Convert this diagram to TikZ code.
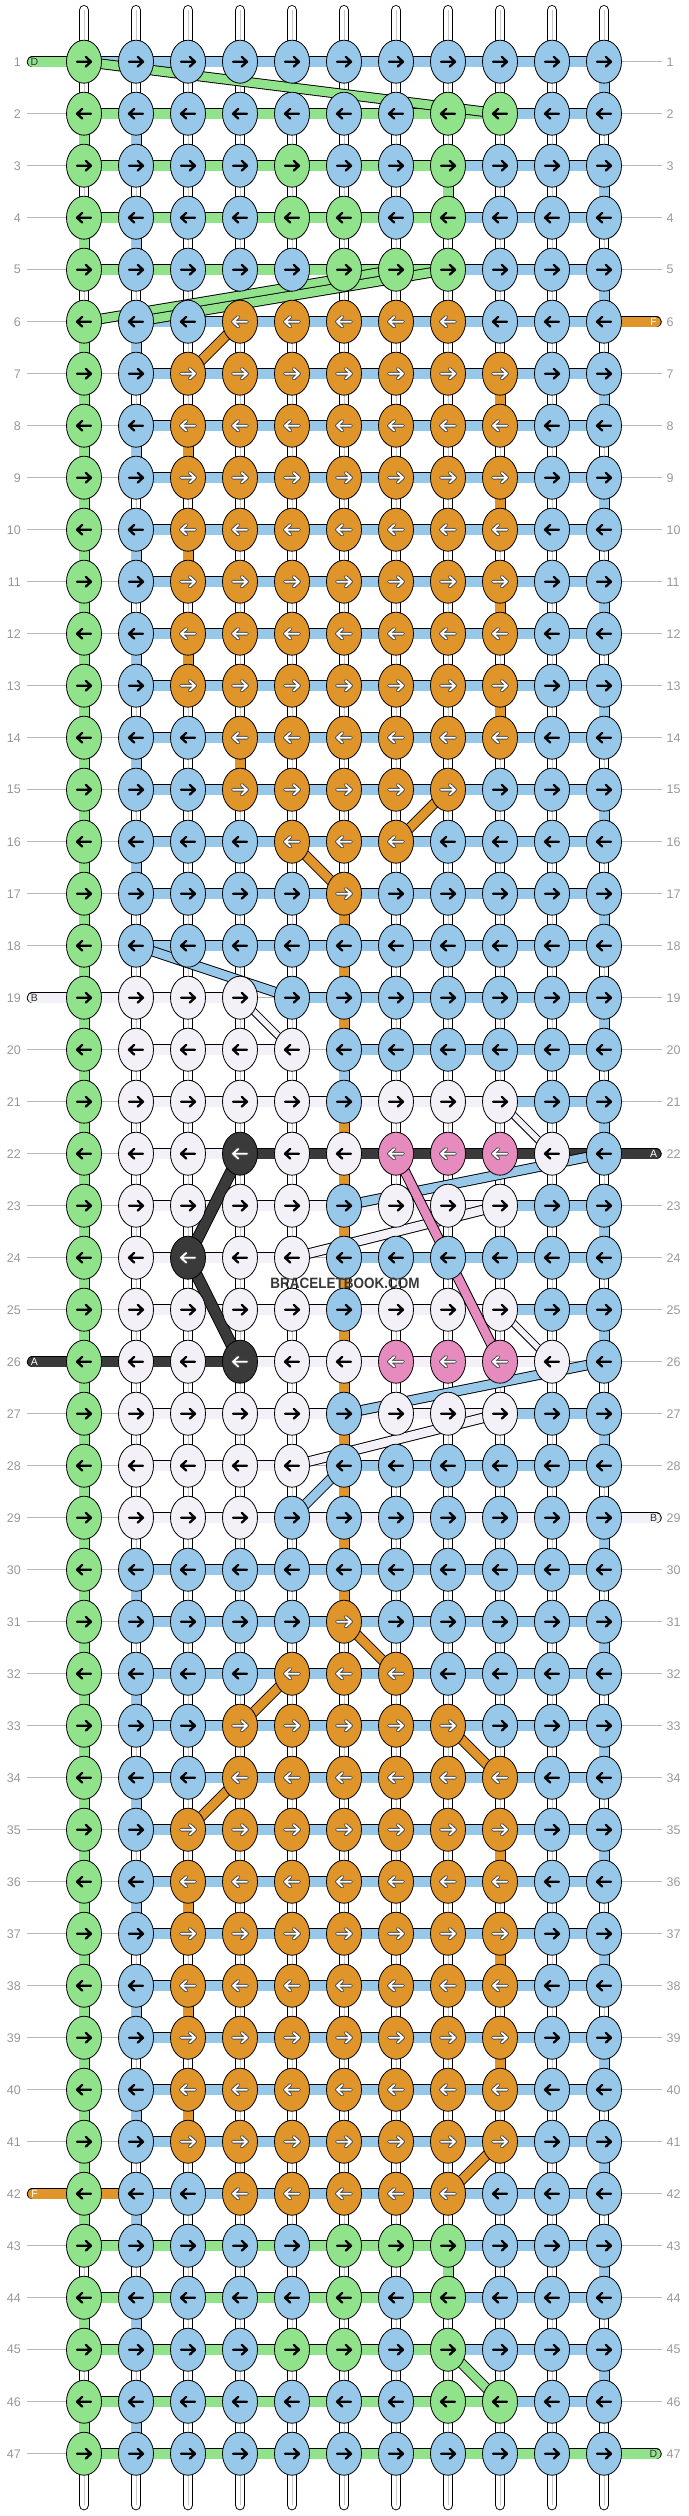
\documentclass[tikz,border=0pt]{standalone}
\usepackage{fontspec}
\setmainfont{Liberation Sans}
\usetikzlibrary{shapes.geometric}
\definecolor{kG}{HTML}{91E38B}
\definecolor{kB}{HTML}{97C8E9}
\definecolor{kO}{HTML}{DF952A}
\definecolor{kP}{HTML}{E68BBE}
\definecolor{kD}{HTML}{3A3A3A}
\definecolor{kW}{HTML}{F4F0F7}
\definecolor{lblgrey}{HTML}{999999}
\definecolor{lngrey}{HTML}{B8B8B8}
\definecolor{strgrey}{HTML}{C8C8C8}

\newcommand\arrG[1]{\draw[arrblk] ({-7*#1},0) -- ({7*#1},0) ({1.8*#1},-4.8) -- ({7*#1},0) -- ({1.8*#1},4.8);}
\newcommand\arrO[1]{\draw[arrout] ({-7*#1},0) -- ({7*#1},0) ({1.8*#1},-4.8) -- ({7*#1},0) -- ({1.8*#1},4.8);
  \draw[arrin] ({-7*#1},0) -- ({7*#1},0) ({1.8*#1},-4.8) -- ({7*#1},0) -- ({1.8*#1},4.8);}
\let\arrB\arrG \let\arrW\arrG \let\arrP\arrO \let\arrD\arrO

\newcommand\knotrow[2]{%
  \pgfmathtruncatemacro\dirs{1-2*mod(#1+1,2)}%
  \foreach \k [count=\c] in {#2}{%
    \node[knot,fill=k\k] (k-#1-\c) at (p-#1-\c) {};
    \begin{scope}[shift={(k-#1-\c.center)}]\csname arr\k\endcsname{\dirs}\end{scope}
  }}
\newcommand\hbars[4]{\foreach \j in {#2,...,#3}{%
  \pgfmathtruncatemacro\jn{\j+1}%
  \draw[barout] (p-#1-\j) -- (p-#1-\jn);
  \draw[barin,draw=k#4] (p-#1-\j) -- (p-#1-\jn);}}
\newcommand\vgap[3]{\pgfmathtruncatemacro\rnext{#1+1}%
  \draw[gapout] (p-#1-#2) -- (p-\rnext-#2);
  \draw[gapin,draw=k#3] (p-#1-#2) -- (p-\rnext-#2);}
\newcommand\leashL[4]{\pgfmathsetmacro\ly{61.7+52*(#1-1)}%
  \coordinate (le-#1) at (32.5,\ly);
  \draw[leashout] (le-#1) -- (p-#1-1);
  \draw[leashin,draw=k#2] (le-#1) -- (p-#1-1);
  \node[leashtxt,text=#4] (lt-#1) at (34.5,\ly) {#3};}
\newcommand\leashR[4]{\pgfmathsetmacro\ly{61.7+52*(#1-1)}%
  \coordinate (re-#1) at (656,\ly);
  \draw[leashout] (p-#1-11) -- (re-#1);
  \draw[leashin,draw=k#2] (p-#1-11) -- (re-#1);
  \node[leashtxt,text=#4] (rt-#1) at (653.5,\ly) {#3};}

\begin{document}
\begin{tikzpicture}[x=1pt,y=-1pt,
  knot/.style={ellipse,draw=black,line width=0.8pt,minimum width=35pt,minimum height=43pt,inner sep=0pt},
  arrblk/.style={line width=2.3pt,black,line cap=round,line join=round},
  arrout/.style={line width=3.8pt,black!70,line cap=round,line join=round},
  arrin/.style={line width=1.8pt,white,line cap=round,line join=round},
  barout/.style={line width=11.5pt,draw=black},
  barin/.style={line width=9.6pt},
  gapout/.style={line width=11pt,draw=black},
  gapin/.style={line width=9.2pt},
  dgout/.style={line width=10.5pt,draw=black},
  dgin/.style={line width=8.6pt},
  thinout/.style={line width=7.5pt,draw=black},
  thinin/.style={line width=5.7pt,draw=kW},
  leashout/.style={line width=11.5pt,draw=black,line cap=round},
  leashin/.style={line width=9.6pt,line cap=round},
  leashtxt/.style={font=\fontsize{10.5}{10.5}\selectfont,inner sep=0pt},
  rowlbl/.style={font=\fontsize{12.5}{12.5}\selectfont,text=lblgrey,inner sep=0pt},
  lblline/.style={line width=1pt,draw=lngrey}]
\useasboundingbox (0,0) rectangle (688,2516);
\fill[white] (0,0) rectangle (688,2516);

% grid coordinates
\foreach \r in {1,...,47}{\foreach \c in {1,...,11}{%
  \coordinate (p-\r-\c) at ({84+52*(\c-1)},{61.7+52*(\r-1)});}}

% row guide lines (under everything)
\foreach \r in {1,...,47}{\pgfmathsetmacro\ly{61.7+52*(\r-1)}%
  \coordinate (lc-\r) at (27,\ly); \coordinate (rc-\r) at (662,\ly);
  \draw[lblline] (lc-\r) -- (rc-\r);}

% vertical strands
\foreach \c in {1,...,11}{%
  \coordinate (st-\c) at ({84+52*(\c-1)},10.3);
  \coordinate (sb-\c) at ({84+52*(\c-1)},2505);
  \draw[line width=10.6pt,black,line cap=round] (st-\c) -- (sb-\c);
  \draw[line width=8.8pt,white,line cap=round] (st-\c) -- (sb-\c);
  \draw[line width=0.9pt,strgrey] (st-\c) -- (sb-\c);}

% coloured vertical gaps
\foreach \r in {2,4} {\vgap{\r}{1}{G}}
\foreach \r in {6,...,42} {\vgap{\r}{1}{G}}
\foreach \r in {44,46} {\vgap{\r}{1}{G}}
\foreach \r in {2,4,...,16} {\vgap{\r}{2}{B}}
\foreach \r in {30,32,...,46} {\vgap{\r}{2}{B}}
\foreach \r in {1,3,...,45} {\vgap{\r}{11}{B}}
\foreach \r in {3,43} {\vgap{\r}{8}{G}}
\foreach \r in {7,9,11,13,35,37,39} {\vgap{\r}{9}{O}}
\foreach \r in {8,10,12,36,38,40} {\vgap{\r}{3}{O}}
\vgap{14}{4}{O}
\foreach \r in {17,18,19} {\vgap{\r}{6}{O}}
\vgap{20}{6}{B}
\foreach \r in {21,...,30} {\vgap{\r}{6}{O}}

% leashes
\leashL{1}{G}{D}{black!80}
\leashL{19}{W}{B}{black!80}
\leashL{26}{D}{A}{white}
\leashL{42}{O}{F}{white}
\leashR{6}{O}{F}{white}
\leashR{22}{D}{A}{white}
\leashR{29}{W}{B}{black!80}
\leashR{47}{G}{D}{black!80}

% horizontal bars
\foreach \r/\a/\b/\cl in {1/1/10/B, 2/1/8/G, 2/9/10/B, 3/1/7/G, 3/8/10/B, 4/1/7/G, 4/8/10/B,
  5/1/7/G, 5/8/10/B, 19/1/3/W, 19/5/10/B, 20/2/4/W, 20/6/10/B, 21/2/8/W, 21/9/10/B,
  22/2/3/W, 22/4/10/D, 23/2/8/W, 23/9/10/B, 24/2/4/W, 24/6/10/B, 25/2/8/W, 25/9/10/B,
  26/1/3/D, 26/4/9/W, 27/2/8/W, 27/9/10/B, 28/2/4/W, 28/6/10/B, 29/2/10/W,
  42/1/1/O, 42/2/10/B, 43/1/7/G, 43/8/10/B, 44/1/7/G, 44/8/10/B, 45/1/7/G, 45/8/10/B,
  46/1/8/G, 46/9/10/B, 47/1/10/G}
  {\hbars{\r}{\a}{\b}{\cl}}
\foreach \r in {6,...,18} {\hbars{\r}{2}{10}{B}}
\foreach \r in {30,...,41} {\hbars{\r}{2}{10}{B}}

% diagonal threads
\foreach \a/\b in {19-4/20-5, 21-9/22-10, 25-9/26-10}
  {\draw[thinout] (p-\a) -- (p-\b); \draw[thinin] (p-\a) -- (p-\b);}
\foreach \a/\b/\cl in {1-1/2-9/G, 5-7/6-1/G, 5-8/6-2/G, 6-4/7-3/O, 15-8/16-7/O, 16-5/17-6/O,
  31-6/32-7/O, 32-5/33-4/O, 33-8/34-9/O, 34-4/35-3/O, 41-9/42-8/O, 45-8/46-9/G,
  18-2/19-5/B, 23-9/24-5/W, 27-9/28-5/W, 22-11/23-6/B, 26-11/27-6/B, 28-6/29-5/B}
  {\draw[dgout] (p-\a) -- (p-\b); \draw[dgin,draw=k\cl] (p-\a) -- (p-\b);}
\draw[dgout] (p-22-7) -- (p-26-9);
\draw[dgin,draw=kP] (p-22-7) -- (p-26-9);
\draw[line width=12pt,black,line join=round] (p-22-4) -- (p-24-3) -- (p-26-4);
\draw[line width=10.2pt,kD,line join=round] (p-22-4) -- (p-24-3) -- (p-26-4);

% knots
\knotrow{1}{G,B,B,B,B,B,B,B,B,B,B}
\knotrow{2}{G,B,B,B,B,B,B,G,G,B,B}
\knotrow{3}{G,B,B,B,G,B,B,G,B,B,B}
\knotrow{4}{G,B,B,B,G,G,B,G,B,B,B}
\knotrow{5}{G,B,B,B,B,G,G,G,B,B,B}
\knotrow{6}{G,B,B,O,O,O,O,O,B,B,B}
\foreach \r in {7,...,13} {\knotrow{\r}{G,B,O,O,O,O,O,O,O,B,B}}
\knotrow{14}{G,B,B,O,O,O,O,O,O,B,B}
\knotrow{15}{G,B,B,O,O,O,O,O,B,B,B}
\knotrow{16}{G,B,B,B,O,O,O,B,B,B,B}
\knotrow{17}{G,B,B,B,B,O,B,B,B,B,B}
\knotrow{18}{G,B,B,B,B,B,B,B,B,B,B}
\knotrow{19}{G,W,W,W,B,B,B,B,B,B,B}
\knotrow{20}{G,W,W,W,W,B,B,B,B,B,B}
\knotrow{21}{G,W,W,W,W,B,W,W,W,B,B}
\knotrow{22}{G,W,W,D,W,W,P,P,P,W,B}
\knotrow{23}{G,W,W,W,W,B,W,W,W,B,B}
\knotrow{24}{G,W,D,W,W,B,B,B,B,B,B}
\knotrow{25}{G,W,W,W,W,B,W,W,W,B,B}
\knotrow{26}{G,W,W,D,W,W,P,P,P,W,B}
\knotrow{27}{G,W,W,W,W,B,W,W,W,B,B}
\knotrow{28}{G,W,W,W,W,B,B,B,B,B,B}
\knotrow{29}{G,W,W,W,B,B,B,B,B,B,B}
\knotrow{30}{G,B,B,B,B,B,B,B,B,B,B}
\knotrow{31}{G,B,B,B,B,O,B,B,B,B,B}
\knotrow{32}{G,B,B,B,O,O,O,B,B,B,B}
\knotrow{33}{G,B,B,O,O,O,O,O,B,B,B}
\knotrow{34}{G,B,B,O,O,O,O,O,O,B,B}
\foreach \r in {35,...,41} {\knotrow{\r}{G,B,O,O,O,O,O,O,O,B,B}}
\knotrow{42}{G,B,B,O,O,O,O,O,B,B,B}
\knotrow{43}{G,B,B,B,B,G,G,G,B,B,B}
\knotrow{44}{G,B,B,B,B,G,B,G,B,B,B}
\knotrow{45}{G,B,B,B,G,G,B,G,B,B,B}
\knotrow{46}{G,B,B,B,B,B,B,G,G,B,B}
\knotrow{47}{G,B,B,B,B,B,B,B,B,B,B}

% row numbers
\foreach \r in {1,...,47}{\pgfmathsetmacro\ly{61.7+52*(\r-1)}%
  \node[rowlbl,anchor=east] (ll-\r) at (21,\ly) {\r};
  \node[rowlbl,anchor=west] (rl-\r) at (666.5,\ly) {\r};}

% watermark
\node[font=\bfseries\fontsize{15}{15}\selectfont,text=black!78,inner sep=0pt] (wm) at (345,1283)
  {\scalebox{0.9}[1]{BRACELETBOOK.COM}};
\end{tikzpicture}
\end{document}
